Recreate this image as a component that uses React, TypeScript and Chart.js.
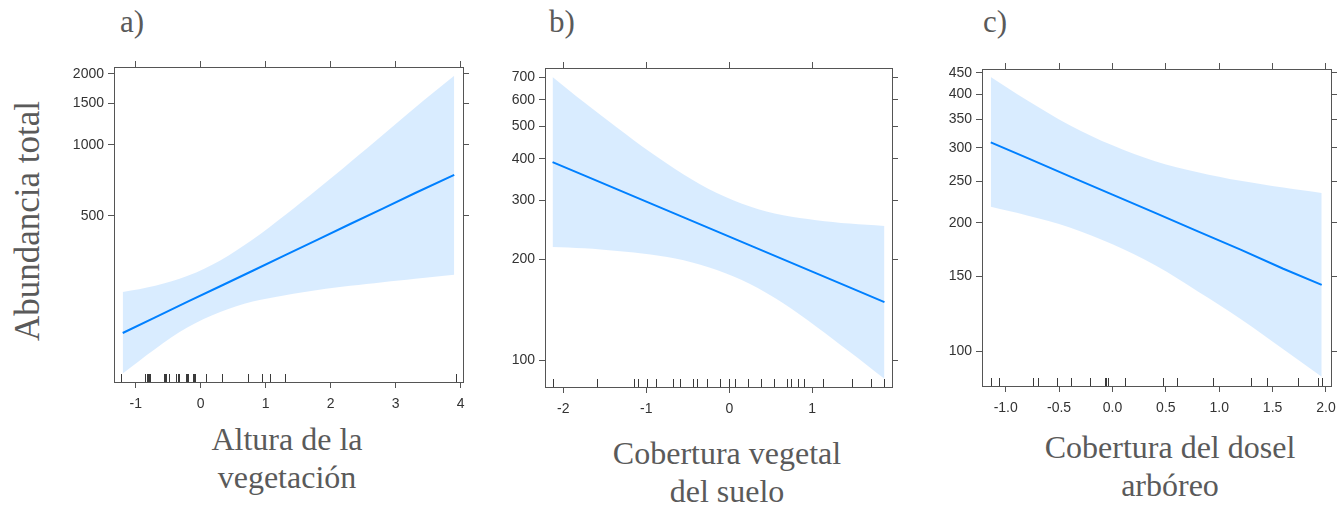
import React, { useEffect, useRef } from "react";
import { Chart, registerables } from "chart.js";

Chart.register(...registerables);

// ---------- Panel a: Altura de la vegetación ----------
const xA = [-1.2, -0.7, -0.2, 0.3, 0.8, 1.3, 1.8, 2.3, 2.8, 3.3, 3.9];
const fitA = [159, 185, 216, 251, 292, 340, 396, 461, 536, 624, 745];
const upA = [237, 252, 278, 323, 396, 503, 648, 843, 1100, 1439, 1960];
const loA = [107, 136, 168, 195, 216, 230, 242, 252, 261, 270, 281];
const rugA = [-1.22, -0.86, -0.85, -0.83, -0.815, -0.795, -0.775, -0.57, -0.55, -0.53, -0.49, -0.375, -0.35, -0.33, -0.23, -0.215, -0.195, -0.12, -0.11, -0.09, 0.08, 0.33, 0.73, 0.95, 1.06, 1.3, 3.93];
const xTicksA = [-1, 0, 1, 2, 3, 4];
const yTicksA = [500, 1000, 1500, 2000];

// ---------- Panel b: Cobertura vegetal del suelo ----------
const xB = [-2.13, -1.75, -1.35, -0.95, -0.55, -0.15, 0.25, 0.65, 1.05, 1.45, 1.87];
const fitB = [390.8, 356.8, 323.9, 294.2, 267.2, 242.6, 220.3, 200.1, 181.7, 165.1, 149.2];
const upB = [702, 590, 495, 418, 359, 316, 288, 271, 262, 256, 252];
const loB = [218, 216, 212, 207, 199, 186, 169, 148, 126, 106, 88];
const rugB = [-2.125, -1.595, -1.15, -1.095, -0.99, -0.88, -0.675, -0.59, -0.435, -0.39, -0.27, -0.107, 0.0, 0.07, 0.23, 0.383, 0.536, 0.7, 0.745, 0.83, 0.898, 1.124, 1.475, 1.705, 1.87];
const xTicksB = [-2, -1, 0, 1];
const yTicksB = [100, 200, 300, 400, 500, 600, 700];

// ---------- Panel c: Cobertura del dosel arbóreo ----------
const xC = [-1.14, -0.8, -0.4, 0, 0.4, 0.8, 1.2, 1.6, 1.96];
const fitC = [309, 284, 257, 233, 211, 191, 173, 156, 143];
const upC = [440, 388, 339, 304, 279, 263, 251, 242, 235];
const loC = [218, 208, 195, 178, 159, 138, 119, 101, 87];
const rugC = [-1.134, -1.066, -0.747, -0.694, -0.522, -0.516, -0.391, -0.206, -0.072, -0.059, -0.044, 0.113, 0.475, 0.603, 0.941, 1.297, 1.45, 1.734, 1.928, 1.966];
const xTicksC = [-1.0, -0.5, 0.0, 0.5, 1.0, 1.5, 2.0];
const yTicksC = [100, 150, 200, 250, 300, 350, 400, 450];

const yTitle = "Abundancia total";
const panelLetters = ["a)", "b)", "c)"];
const xTitles = [
  ["Altura de la", "vegetación"],
  ["Cobertura vegetal", "del suelo"],
  ["Cobertura del dosel", "arbóreo"],
];

const LINE = "#0080ff";
const BAND = "rgba(0,128,255,0.15)";
const AXIS = "#555555";
const TICKTXT = "#333333";
const TITLE = "#5a5a5a";
const TICKFONT = { family: "'Liberation Sans Narrow', 'Arial Narrow', 'Liberation Sans', Arial, sans-serif", size: 14 };

const PAD_L = 56, PAD_R = 16, PAD_T = 16, PAD_B = 36;

type PanelCfg = {
  xs: number[]; fit: number[]; up: number[]; lo: number[]; rug: number[];
  xTicks: number[]; yTicks: number[]; xDec: number;
  xMin: number; xMax: number; yMin: number; yMax: number;
  frame: { l: number; t: number; r: number; b: number };
};

const panels: PanelCfg[] = [
  { xs: xA, fit: fitA, up: upA, lo: loA, rug: rugA, xTicks: xTicksA, yTicks: yTicksA, xDec: 0,
    xMin: -1.334, xMax: 4.035, yMin: 98.5, yMax: 2136, frame: { l: 114, t: 67, r: 463, b: 382 } },
  { xs: xB, fit: fitB, up: upB, lo: loB, rug: rugB, xTicks: xTicksB, yTicks: yTicksB, xDec: 0,
    xMin: -2.221, xMax: 1.961, yMin: 83.2, yMax: 746.7, frame: { l: 545, t: 68, r: 892, b: 387 } },
  { xs: xC, fit: fitC, up: upC, lo: loC, rug: rugC, xTicks: xTicksC, yTicks: yTicksC, xDec: 1,
    xMin: -1.222, xMax: 2.047, yMin: 82.8, yMax: 459.2, frame: { l: 982, t: 69, r: 1331, b: 386 } },
];

const rugPlugin = {
  id: "rug",
  afterDatasetsDraw(chart: any, _args: any, opts: any) {
    const vals: number[] = opts.values || [];
    const xs = chart.scales.x;
    const bottom = chart.chartArea.bottom;
    const ctx = chart.ctx;
    ctx.save();
    ctx.strokeStyle = "#3a3a3a";
    ctx.lineWidth = 1;
    for (const v of vals) {
      const px = Math.round(xs.getPixelForValue(v)) + 0.5;
      ctx.beginPath();
      ctx.moveTo(px, bottom);
      ctx.lineTo(px, bottom - 8);
      ctx.stroke();
    }
    ctx.restore();
  },
};

function makeChart(canvas: HTMLCanvasElement, p: PanelCfg) {
  const pts = (ys: number[]) => p.xs.map((x, i) => ({ x, y: ys[i] }));
  const gridCfg = { display: true, drawOnChartArea: false, drawTicks: true, tickLength: 6, color: AXIS, lineWidth: 1 };
  const borderCfg = { display: true, color: AXIS, width: 1 };
  const setTicks = (vals: number[]) => (scale: any) => {
    scale.ticks = vals.map((v) => ({ value: v }));
  };
  return new Chart(canvas, {
    type: "line",
    data: {
      datasets: [
        { data: pts(p.lo), borderWidth: 0, pointRadius: 0, fill: false, tension: 0.35, borderColor: "rgba(0,0,0,0)" } as any,
        { data: pts(p.up), borderWidth: 0, pointRadius: 0, fill: "-1", backgroundColor: BAND, tension: 0.35, borderColor: "rgba(0,0,0,0)" } as any,
        { data: pts(p.fit), borderWidth: 2, pointRadius: 0, fill: false, borderColor: LINE, tension: 0 } as any,
      ],
    },
    options: {
      animation: false,
      responsive: false,
      devicePixelRatio: 1,
      layout: { padding: 0 },
      plugins: { legend: { display: false }, tooltip: { enabled: false }, rug: { values: p.rug } } as any,
      scales: {
        x: {
          type: "linear", position: "bottom", min: p.xMin, max: p.xMax, bounds: "data",
          afterBuildTicks: setTicks(p.xTicks),
          afterFit: (s: any) => { s.height = PAD_B; },
          ticks: { display: true, font: TICKFONT, color: TICKTXT, padding: 8, maxRotation: 0, autoSkip: false,
            callback: (v: any) => Number(v).toFixed(p.xDec) },
          grid: gridCfg, border: borderCfg,
        },
        x2: {
          type: "linear", position: "top", min: p.xMin, max: p.xMax, bounds: "data",
          afterBuildTicks: setTicks(p.xTicks),
          afterFit: (s: any) => { s.height = PAD_T; },
          ticks: { display: false, autoSkip: false },
          grid: gridCfg, border: borderCfg,
        },
        y: {
          type: "logarithmic", position: "left", min: p.yMin, max: p.yMax, bounds: "data",
          afterBuildTicks: setTicks(p.yTicks),
          afterFit: (s: any) => { s.width = PAD_L; },
          ticks: { display: true, font: TICKFONT, color: TICKTXT, padding: 4, autoSkip: false,
            callback: (v: any) => String(v) },
          grid: gridCfg, border: borderCfg,
        },
        y2: {
          type: "logarithmic", position: "right", min: p.yMin, max: p.yMax, bounds: "data",
          afterBuildTicks: setTicks(p.yTicks),
          afterFit: (s: any) => { s.width = PAD_R; },
          ticks: { display: false, autoSkip: false },
          grid: gridCfg, border: borderCfg,
        },
      } as any,
    },
    plugins: [rugPlugin],
  } as any);
}

const titleFont = "'Liberation Serif', 'DejaVu Serif', serif";

export default function App() {
  const refs = [useRef<HTMLCanvasElement>(null), useRef<HTMLCanvasElement>(null), useRef<HTMLCanvasElement>(null)];

  useEffect(() => {
    document.body.style.margin = "0";
    document.body.style.overflow = "hidden";
    const charts = panels.map((p, i) => makeChart(refs[i].current as HTMLCanvasElement, p));
    return () => charts.forEach((c) => c.destroy());
  }, []);

  const letterPos = [120, 549, 983];
  const xTitleCenters = [287, 727, 1170];
  const xTitleTops = [420, 434, 428];

  return (
    <div style={{ position: "absolute", left: 0, top: 0, width: 1341, height: 505, overflow: "hidden", background: "#fff" }}>
      {panels.map((p, i) => {
        const w = p.frame.r - p.frame.l + PAD_L + PAD_R;
        const h = p.frame.b - p.frame.t + PAD_T + PAD_B;
        return (
          <canvas
            key={i}
            ref={refs[i]}
            width={w}
            height={h}
            style={{ position: "absolute", left: p.frame.l - PAD_L, top: p.frame.t - PAD_T, width: w, height: h }}
          />
        );
      })}
      {panelLetters.map((t, i) => (
        <div key={"l" + i} style={{ position: "absolute", left: letterPos[i], top: 4, fontFamily: titleFont, fontSize: 31, lineHeight: "36px", color: TITLE, whiteSpace: "nowrap" }}>{t}</div>
      ))}
      {xTitles.map((lines, i) => (
        <div key={"x" + i} style={{ position: "absolute", left: xTitleCenters[i] - 200, width: 400, top: xTitleTops[i], textAlign: "center", fontFamily: titleFont, fontSize: 32, lineHeight: "38px", color: TITLE }}>
          {lines.map((ln, j) => (<div key={j} style={{ whiteSpace: "nowrap" }}>{ln}</div>))}
        </div>
      ))}
      <div style={{ position: "absolute", left: 28 - 150, top: 221 - 18, width: 300, height: 36, textAlign: "center", fontFamily: titleFont, fontSize: 35, lineHeight: "36px", color: TITLE, transform: "rotate(-90deg)", whiteSpace: "nowrap" }}>{yTitle}</div>
    </div>
  );
}
